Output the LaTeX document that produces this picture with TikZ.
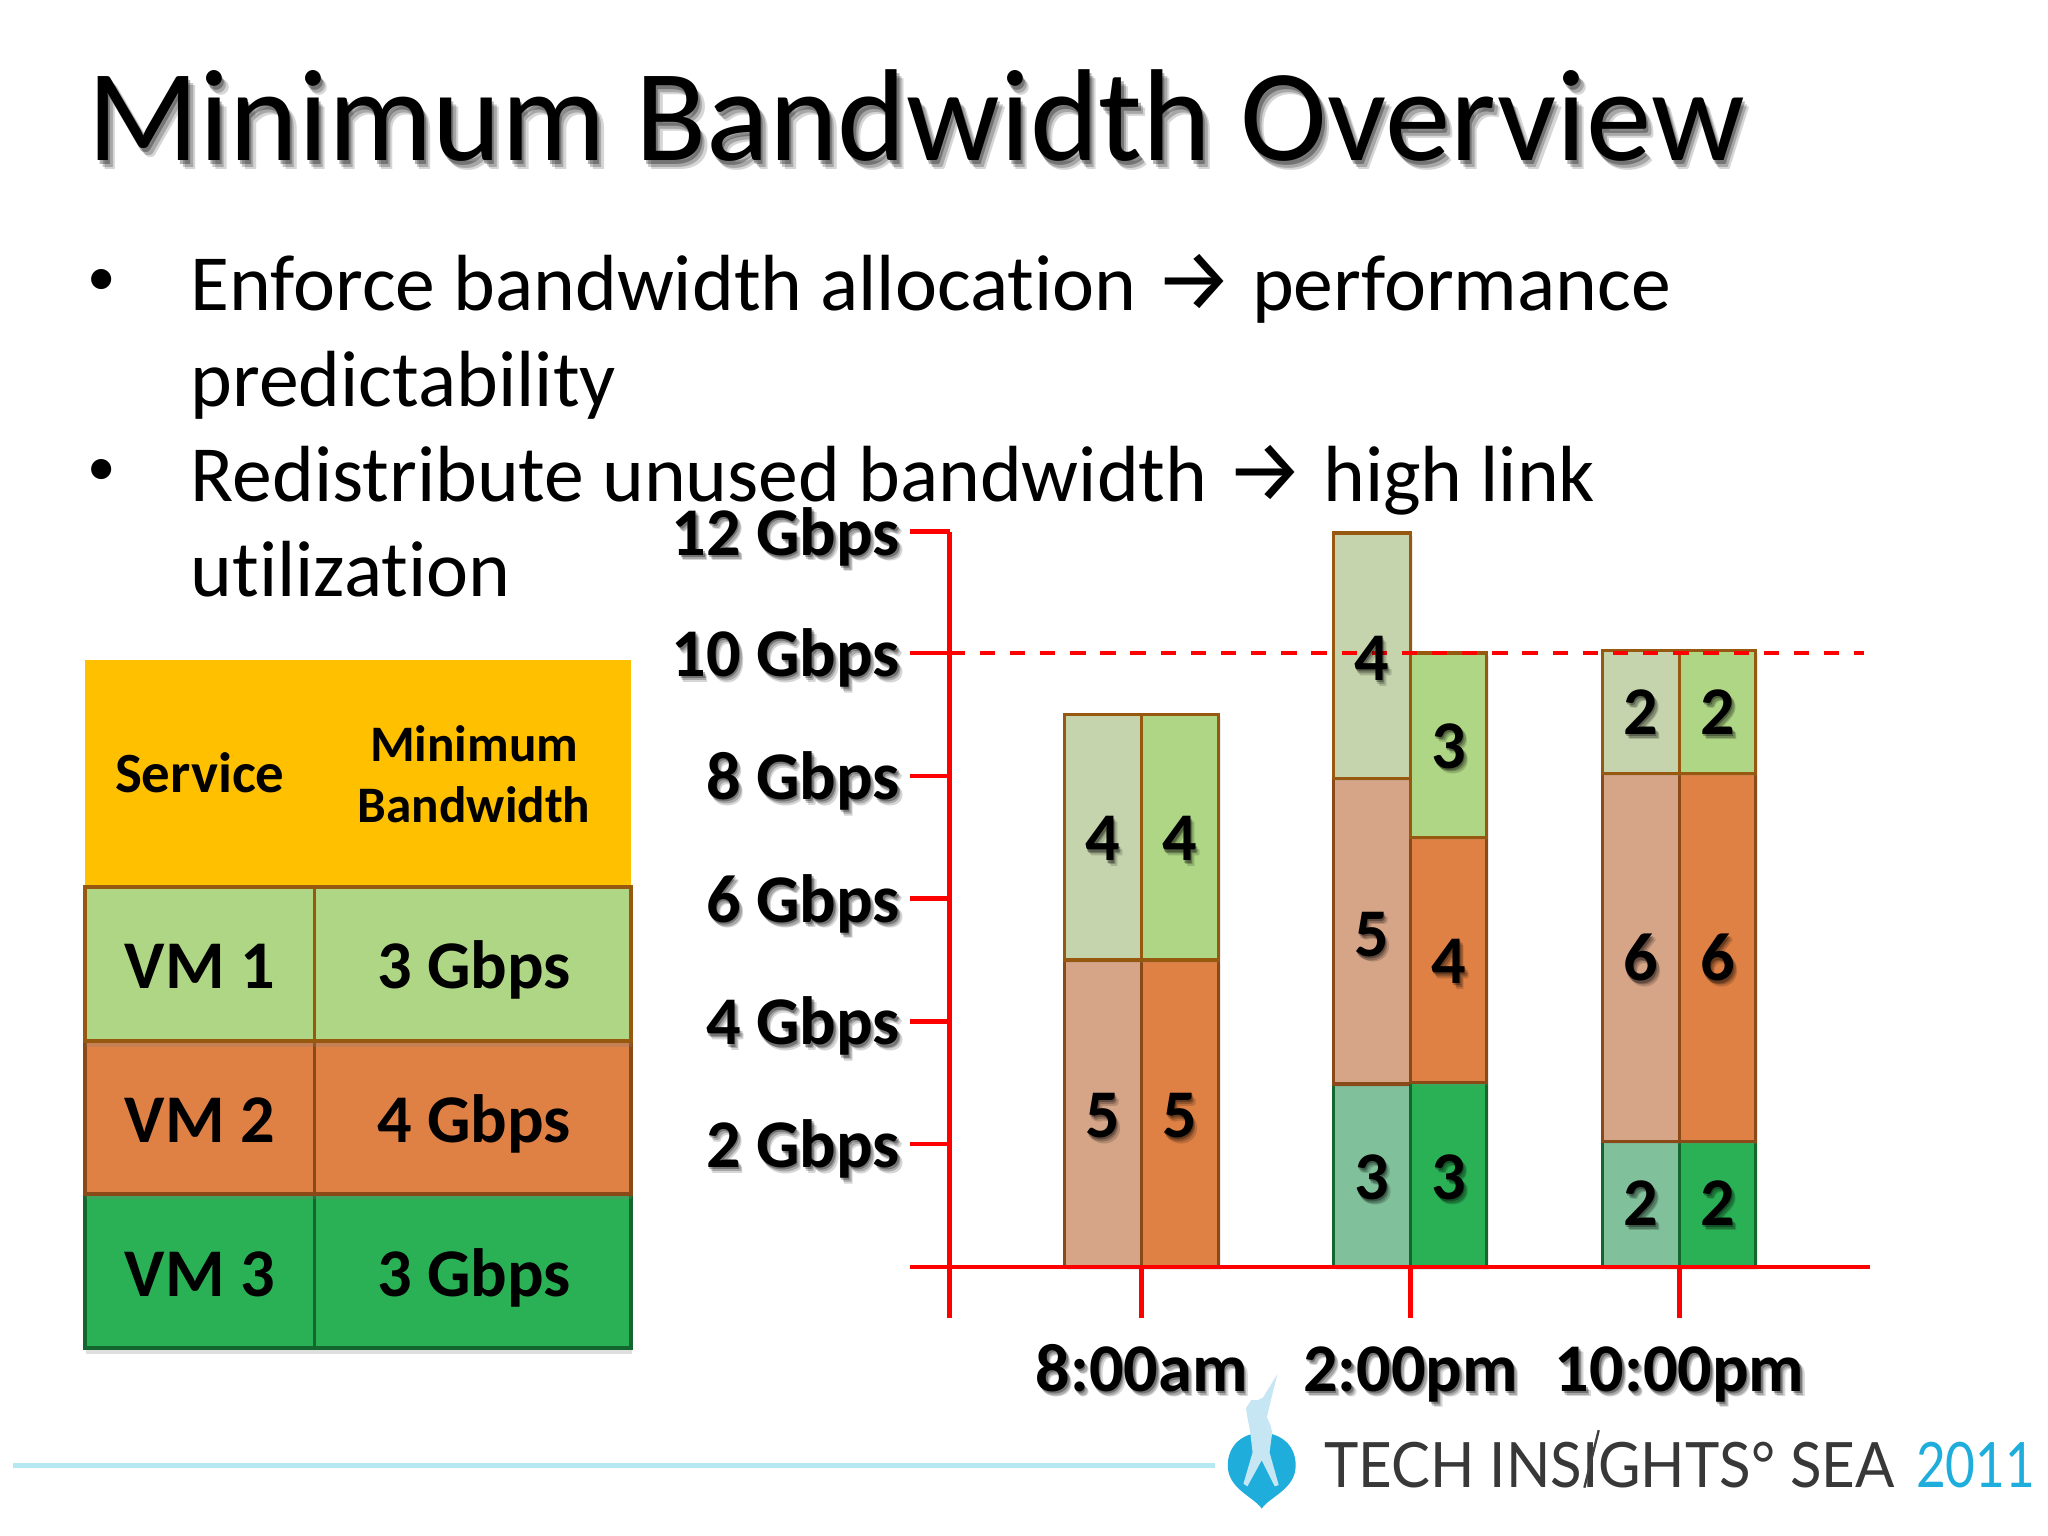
\documentclass[tikz,border=0pt]{standalone}
\usepackage{fontspec}
\usepackage{graphicx}
\setmainfont[Ligatures=NoCommon]{Carlito}
\newfontfamily\logofont{Lato}
\newfontfamily\arrowfont{Fira Sans}
\usetikzlibrary{shadows,arrows.meta}
\definecolor{cellline}{HTML}{96590F}
\definecolor{orangeline}{HTML}{8A4A18}
\definecolor{greenline}{HTML}{14662F}
\definecolor{headfill}{HTML}{FFC000}
\definecolor{gA}{HTML}{AFD685}
\definecolor{oA}{HTML}{DF8144}
\definecolor{dA}{HTML}{2BB155}
\definecolor{gB}{HTML}{C5D4AC}
\definecolor{oB}{HTML}{D6A587}
\definecolor{dB}{HTML}{80C09A}
\definecolor{footline}{HTML}{B5E8F0}
\definecolor{logoblue}{HTML}{1FAEDC}
\definecolor{logopale}{HTML}{C5E6F2}
\newcommand\sh[2][1]{\leavevmode
 \rlap{\kern#1\dimexpr 1.5bp\relax\raisebox{-#1\dimexpr 2bp\relax}{\pgfsetfillopacity{0.16}#2\pgfsetfillopacity{1}}}%
 \rlap{\kern#1\dimexpr 1bp\relax\raisebox{-#1\dimexpr 1.4bp\relax}{\pgfsetfillopacity{0.22}#2\pgfsetfillopacity{1}}}%
 \rlap{\kern#1\dimexpr 0.5bp\relax\raisebox{-#1\dimexpr 0.8bp\relax}{\pgfsetfillopacity{0.3}#2\pgfsetfillopacity{1}}}#2}
\newcommand\fs[1]{\fontsize{#1bp}{#1bp}\selectfont}
\newcommand\bigarrow{{\arrowfont\fontsize{31bp}{31bp}\selectfont→}}
\tikzset{
 txt/.style={inner sep=0pt,outer sep=0pt,text=black},
 cellbox/.style={draw=cellline,line width=1.2bp,inner sep=0pt,outer sep=0pt},
 headbox/.style={inner sep=0pt,outer sep=0pt},
 segbox/.style={draw=cellline,line width=1.2bp,inner sep=0pt,outer sep=0pt,drop shadow={opacity=.16,shadow xshift=1bp,shadow yshift=-1bp}},
 axisline/.style={draw=red,line width=1.6bp},
 limitline/.style={draw=red,line width=1.7bp,dash pattern=on 5.4bp off 5.2bp},
}
\newcommand\seg[6]{\node[segbox,fill=#6,minimum width={(#3-#2)*0.4592bp},minimum height={(#5-#4)*0.4592bp}] (#1) at ({(#2+#3)/2},{(#4+#5)/2}) {};}
\newcommand\cell[6]{\node[#6,minimum width={(#3-#2)*0.4592bp},minimum height={(#5-#4)*0.4592bp}] (#1) at ({(#2+#3)/2},{(#4+#5)/2}) {};}
\newcommand\num[4]{\node[txt,anchor=base,font=\fs{24}\bfseries] (#1) at (#2,#3) {\sh{#4}};}
\begin{document}
\begin{tikzpicture}[x=0.4592bp,y=-0.4592bp]
\useasboundingbox[fill=white] (0,0) rectangle (1568,1176);
% title and bullets
\node[txt,anchor=base west,font=\fs{46}] (title) at (67,123) {\sh[1.6]{Minimum Bandwidth Overview}};
\node[txt,font=\fs{20}] (b1) at (78,216) {•};
\node[txt,font=\fs{20}] (b2) at (78,362) {•};
\node[txt,anchor=base west,font=\fs{28}] (l1) at (146,238) {Enforce bandwidth allocation \bigarrow{} performance};
\node[txt,anchor=base west,font=\fs{28}] (l2) at (146,311) {predictability};
\node[txt,anchor=base west,font=\fs{28}] (l3) at (146,384) {Redistribute unused bandwidth \bigarrow{} high link};
\node[txt,anchor=base west,font=\fs{28}] (l4) at (146,457) {utilization};
% table
\cell{hA}{65}{241}{505}{679}{headbox,fill=headfill}
\cell{hB}{241}{483}{505}{679}{headbox,fill=headfill}
\begin{scope}[every node/.append style={drop shadow={opacity=.25,shadow xshift=0.5bp,shadow yshift=-2bp}}]
\cell{cA}{65}{241}{914}{1032}{cellbox,fill=dA,draw=greenline}
\cell{cB}{241}{483}{914}{1032}{cellbox,fill=dA,draw=greenline}
\cell{bA}{65}{241}{797}{914}{cellbox,fill=oA,draw=orangeline}
\cell{bB}{241}{483}{797}{914}{cellbox,fill=oA,draw=orangeline}
\cell{aA}{65}{241}{679}{797}{cellbox,fill=gA}
\cell{aB}{241}{483}{679}{797}{cellbox,fill=gA}
\end{scope}
\node[txt,anchor=base,font=\fs{20}\bfseries] (tS) at (153,607) {Service};
\node[txt,anchor=base,font=\fs{18}\bfseries] (tM) at (363,583) {Minimum};
\node[txt,anchor=base,font=\fs{18}\bfseries] (tB) at (363,630) {Bandwidth};
\node[txt,anchor=base,font=\fs{24}\bfseries] (t1) at (153,757) {VM 1};
\node[txt,anchor=base,font=\fs{24}\bfseries] (t2) at (363,757) {3 Gbps};
\node[txt,anchor=base,font=\fs{24}\bfseries] (t3) at (153,875) {VM 2};
\node[txt,anchor=base,font=\fs{24}\bfseries] (t4) at (363,875) {4 Gbps};
\node[txt,anchor=base,font=\fs{24}\bfseries] (t5) at (153,993) {VM 3};
\node[txt,anchor=base,font=\fs{24}\bfseries] (t6) at (363,993) {3 Gbps};
% bars
\seg{p3}{815}{874}{735}{970}{oB,draw=orangeline}
\seg{p4}{874}{933}{735}{970}{oA,draw=orangeline}
\seg{p1}{815}{874}{547}{735}{gB}
\seg{p2}{874}{933}{547}{735}{gA}
\seg{q3}{1021}{1080}{830}{970}{dB,draw=greenline}
\seg{q2}{1021}{1080}{596}{830}{oB,draw=orangeline}
\seg{q1}{1021}{1080}{408}{596}{gB}
\seg{q6}{1080}{1138}{829}{970}{dA,draw=greenline}
\seg{q5}{1080}{1138}{641}{829}{oA,draw=orangeline}
\seg{q4}{1080}{1138}{500}{641}{gA}
\seg{r5}{1227}{1286}{874}{970}{dB,draw=greenline}
\seg{r6}{1286}{1344}{874}{970}{dA,draw=greenline}
\seg{r3}{1227}{1286}{592}{874}{oB,draw=orangeline}
\seg{r4}{1286}{1344}{592}{874}{oA,draw=orangeline}
\seg{r1}{1227}{1286}{498}{592}{gB}
\seg{r2}{1286}{1344}{498}{592}{gA}
% axes
\coordinate (axO) at (727,970);
\coordinate (axTop) at (727,407);
\coordinate (axBot) at (727,1009);
\coordinate (axL) at (697,970);
\coordinate (axR) at (1432,970);
\coordinate (t12) at (697,407);
\coordinate (t10) at (697,500);
\coordinate (t8) at (697,594);
\coordinate (t6) at (697,688);
\coordinate (t4) at (697,782);
\coordinate (t2) at (697,876);
\coordinate (limR) at (1427,500);
\coordinate (xa) at (874,970);
\coordinate (xb) at (1080,970);
\coordinate (xc) at (1286,970);
\coordinate (xaE) at (874,1009);
\coordinate (xbE) at (1080,1009);
\coordinate (xcE) at (1286,1009);
\draw[axisline] (axTop) -- (axBot);
\draw[axisline] (axL) -- (axR);
\foreach \k in {t12,t8,t6,t4,t2} \draw[axisline] (\k) -- (\k -| axO);
\draw[axisline] (t10) -- (t10 -| axO);
\draw[axisline] (xa) -- (xaE);
\draw[axisline] (xb) -- (xbE);
\draw[axisline] (xc) -- (xcE);
\draw[limitline] (t10 -| axO) -- (limR);
% bar numbers
\num{n1}{844}{659}{4}
\num{n2}{903}{659}{4}
\num{n3}{844}{871}{5}
\num{n4}{903}{871}{5}
\num{n5}{1050}{521}{4}
\num{n6}{1050}{732}{5}
\num{n7}{1050}{918}{3}
\num{n8}{1109}{588}{3}
\num{n9}{1109}{753}{4}
\num{n10}{1109}{918}{3}
\num{n11}{1256}{562}{2}
\num{n12}{1315}{562}{2}
\num{n13}{1256}{751}{6}
\num{n14}{1315}{751}{6}
\num{n15}{1256}{938}{2}
\num{n16}{1315}{938}{2}
% axis labels
\node[txt,anchor=base east,font=\fs{24}\bfseries] (y12) at (689,425) {\sh{12 Gbps}};
\node[txt,anchor=base east,font=\fs{24}\bfseries] (y10) at (689,518) {\sh{10 Gbps}};
\node[txt,anchor=base east,font=\fs{24}\bfseries] (y8) at (689,612) {\sh{8 Gbps}};
\node[txt,anchor=base east,font=\fs{24}\bfseries] (y6) at (689,706) {\sh{6 Gbps}};
\node[txt,anchor=base east,font=\fs{24}\bfseries] (y4) at (689,800) {\sh{4 Gbps}};
\node[txt,anchor=base east,font=\fs{24}\bfseries] (y2) at (689,894) {\sh{2 Gbps}};
\node[txt,anchor=base,font=\fs{24}\bfseries] (xl1) at (874,1065) {\sh{8:00am}};
\node[txt,anchor=base,font=\fs{24}\bfseries] (xl2) at (1080,1065) {\sh{2:00pm}};
\node[txt,anchor=base,font=\fs{24}\bfseries] (xl3) at (1286,1065) {\sh{10:00pm}};
% footer
\coordinate (fA) at (10,1122);
\coordinate (fB) at (930,1122);
\draw[footline,line width=1.5bp] (fA) -- (fB);
% logo
\fill[logoblue] (966,1155) .. controls (960,1146) and (940,1140) .. (940,1122) .. controls (940,1106) and (952,1097) .. (966,1097) .. controls (980,1097) and (992,1106) .. (992,1122) .. controls (992,1140) and (972,1146) .. (966,1155) -- cycle;
\fill[logopale] (978,1052) -- (973,1072) -- (970,1085) -- (973,1092) -- (974,1097) -- (972,1112) -- (979,1137) -- (976,1138) -- (966,1118) -- (955,1138) -- (952,1136) -- (959,1112) -- (957,1095) -- (955,1085) -- (954,1078) -- (958,1072) -- (963,1072) -- (967,1070) -- cycle;
\node[txt,anchor=base west,font=\fs{22}\logofont,text=black!78] (logoT) at (1014,1139) {\scalebox{.93}[1]{TECH INSIGHTS° SEA}};
\node[txt,anchor=base west,font=\fs{22}\logofont,text=logoblue] (logoY) at (1467,1139) {\scalebox{.82}[1]{2011}};
\draw[black!75,line width=0.8bp] (1224,1095) -- (1213,1139);
\end{tikzpicture}
\end{document}
